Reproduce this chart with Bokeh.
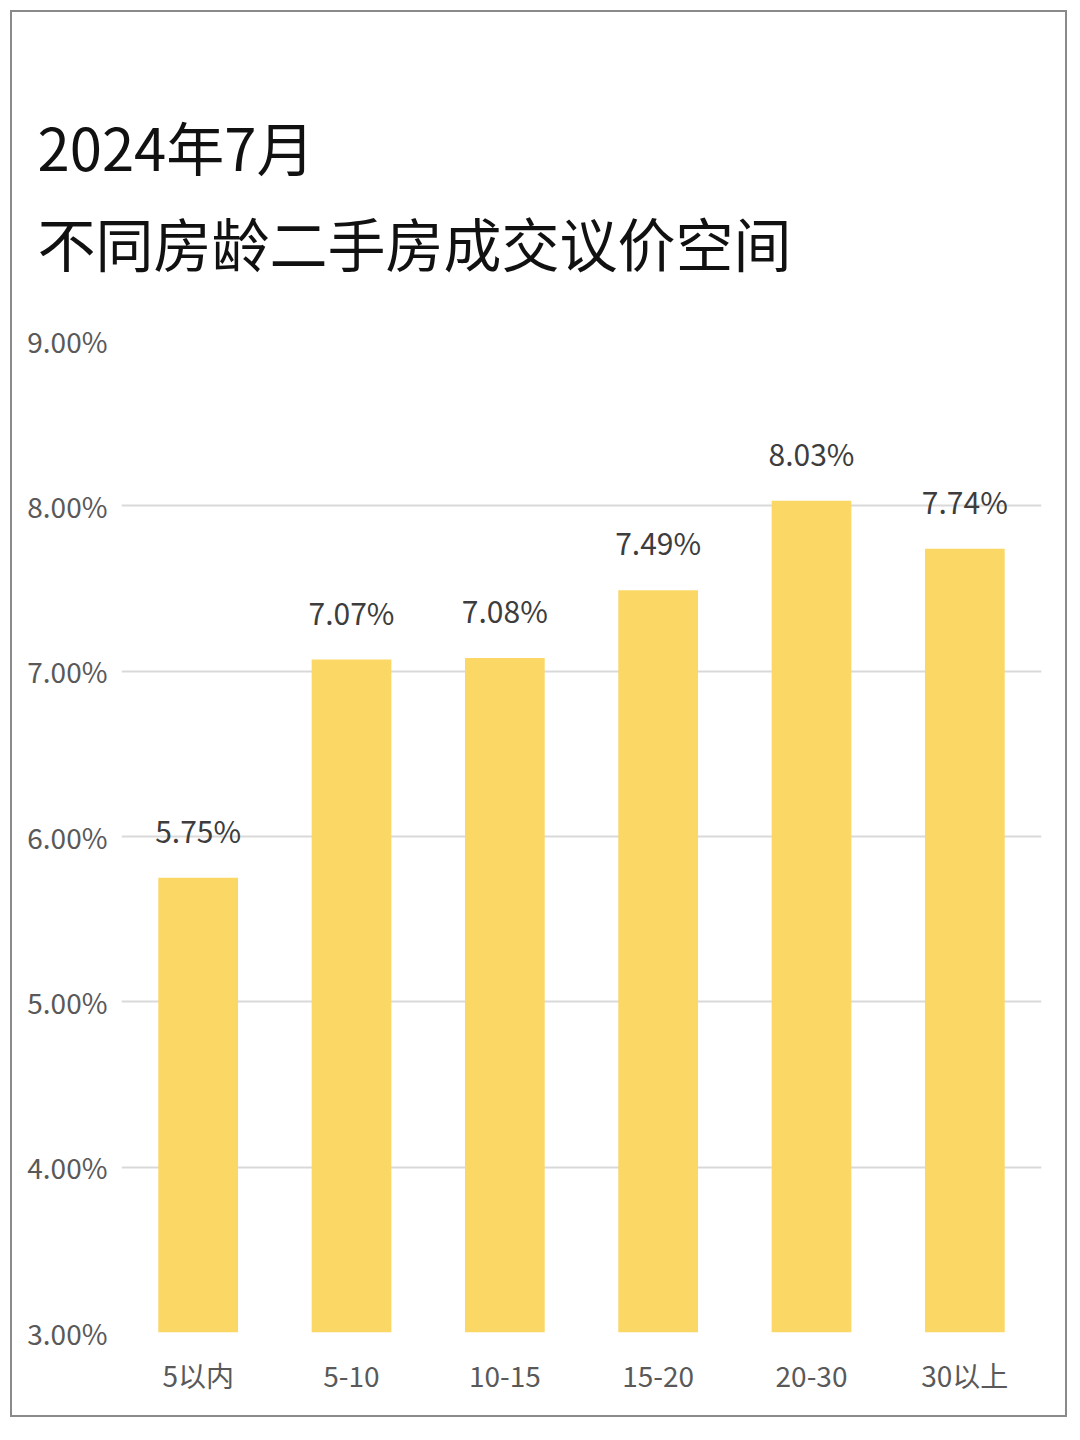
from bokeh.plotting import figure
from bokeh.models import ColumnDataSource, LabelSet, FixedTicker, Title, CustomJSTickFormatter
from bokeh.core.properties import value
from bokeh.embed import file_html
from bokeh.resources import INLINE

categories = ["5以内", "5-10", "10-15", "15-20", "20-30", "30以上"]
values = [5.75, 7.07, 7.08, 7.49, 8.03, 7.74]
value_labels = ["5.75%", "7.07%", "7.08%", "7.49%", "8.03%", "7.74%"]
y_ticks = [3, 4, 5, 6, 7, 8, 9]
title_lines = ["2024年7月", "不同房龄二手房成交议价空间"]

FONT = "Noto Sans CJK SC"

src = ColumnDataSource(dict(cat=categories, val=values, lab=value_labels))

p = figure(x_range=categories, y_range=(3, 9), width=1057, height=1407,
           output_backend="svg", toolbar_location=None,
           min_border_left=109, min_border_right=28, min_border_bottom=87, min_border_top=328)

p.add_layout(Title(text="\n".join(title_lines), text_font=FONT, text_font_size="58px",
                   text_font_style="normal", text_color="#111111", align="left", offset=-84,
                   text_line_height=1.15, standoff=112), "above")

p.vbar(x="cat", top="val", bottom=3, width=0.52, source=src,
       fill_color="#FBD866", line_color=None)

labels = LabelSet(x="cat", y="val", text="lab", source=src, text_align="center",
                  text_baseline="bottom", y_offset=26, text_font=value(FONT),
                  text_font_size=value("30px"), text_color=value("#3d3d3d"))
p.add_layout(labels)

p.yaxis.ticker = FixedTicker(ticks=y_ticks)
p.yaxis.formatter = CustomJSTickFormatter(code="return tick.toFixed(2) + '%';")
p.yaxis.major_label_text_font = FONT
p.yaxis.major_label_text_font_size = "28px"
p.yaxis.major_label_text_color = "#595959"
p.yaxis.major_label_standoff = 8
p.yaxis.axis_line_color = None
p.yaxis.major_tick_line_color = None
p.yaxis.minor_tick_line_color = None

p.xaxis.major_label_text_font = FONT
p.xaxis.major_label_text_font_size = "28px"
p.xaxis.major_label_text_color = "#595959"
p.xaxis.major_label_standoff = 16
p.xaxis.axis_line_color = None
p.xaxis.major_tick_line_color = None
p.xaxis.minor_tick_line_color = None

p.xgrid.grid_line_color = None
p.ygrid.grid_line_color = "#d9d9d9"
p.ygrid.grid_line_width = 2
p.outline_line_color = None
p.background_fill_color = "white"
p.border_fill_color = "white"
p.styles = {"border": "2px solid #8a8a8a", "margin-left": "10px", "margin-top": "10px"}

open("out.html", "w").write(file_html(p, INLINE))
